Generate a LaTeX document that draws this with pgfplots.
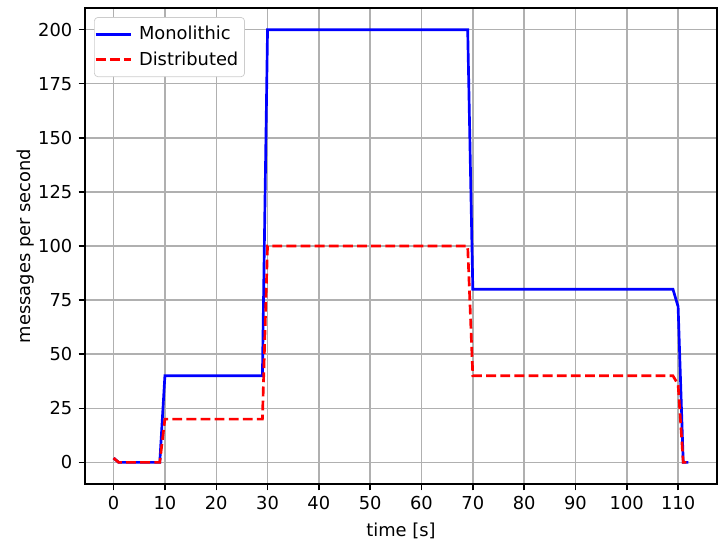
\documentclass[border=0pt]{standalone}
\usepackage{fontspec}
\setmainfont{DejaVu Sans}
\usepackage{pgfplots}
\pgfplotsset{compat=1.18}
\definecolor{gridgray}{HTML}{B0B0B0}
\begin{document}
\begin{tikzpicture}
\begin{axis}[
  name=ax,
  scale only axis,
  width=354pt, height=266.5pt,
  xmin=-5.6, xmax=117.6, ymin=-10, ymax=210,
  xtick={0,10,...,110}, ytick={0,25,...,200},
  xtick pos=bottom, ytick pos=left,
  tick align=outside,
  tick style={black, line width=0.8pt},
  major tick length=3.5pt,
  grid=major,
  grid style={gridgray, line width=0.8pt},
  axis line style={line width=0.8pt},
  /pgf/number format/assume math mode=true,
  ticklabel style={font=\fontsize{10}{12}\selectfont},
  label style={font=\fontsize{10}{12}\selectfont},
  xlabel={time [s]}, ylabel={messages per second},
  xlabel style={at={(rel axis cs:0.5,0)}, anchor=center, yshift=-26pt},
  ylabel style={at={(rel axis cs:0,0.5)}, anchor=center, yshift=33.3pt},
  legend style={at={(0.0145,0.981)}, anchor=north west, draw=gray!40, rounded corners=2pt, font=\fontsize{10}{12}\selectfont, inner xsep=0pt, inner ysep=3pt, row sep=1pt, nodes={inner xsep=3.5pt}},
  legend cell align=left,
  legend image code/.code={\draw[#1] (0cm,0cm) -- (20pt,0cm);},
]
\addplot[blue, line width=1.5pt, mark=none] coordinates {
(0,2) (1,0) (9,0) (10,40) (29,40) (30,200) (69,200) (70,80) (109,80) (110,72) (111,0) (112,0)};
\addlegendentry{Monolithic}
\addplot[red, line width=1.5pt, mark=none, dash pattern=on 5.5pt off 2.4pt] coordinates {
(0,2) (1,0) (9,0) (10,20) (29,20) (30,100) (69,100) (70,40) (109,40) (110,36) (111,0) (112,0)};
\addlegendentry{Distributed}
\end{axis}
\pgfresetboundingbox
\path ([shift={(-47.5pt,-32.4pt)}]ax.south west) rectangle ([shift={(0.5pt,4.5pt)}]ax.north east);
\end{tikzpicture}
\end{document}
